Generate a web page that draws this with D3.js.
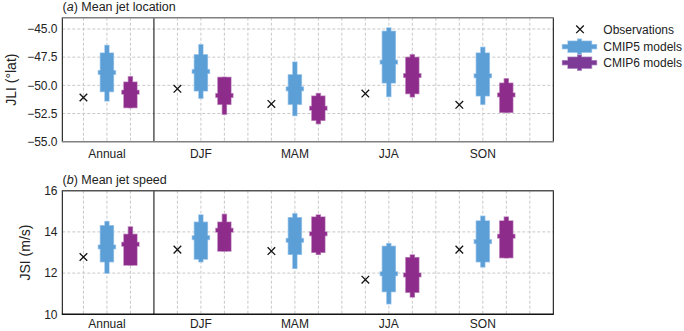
<!DOCTYPE html>
<html><head><meta charset="utf-8">
<script src="https://cdn.jsdelivr.net/npm/d3@7/dist/d3.min.js"></script>
<style>
body{margin:0;background:#fff;}
svg{display:block;font-family:"Liberation Sans",Arial,Helvetica,sans-serif;}
</style></head>
<body><svg id="c" width="684" height="331"></svg>
<script>
const seasons = ["Annual","DJF","MAM","JJA","SON"];
// Mean jet location (JLI, °lat)
const jliObs  = [-51.08,-50.31,-51.65,-50.73,-51.73];
const jli5Max = [-46.46,-46.40,-47.94,-44.91,-46.63];
const jli5Hi  = [-47.14,-47.29,-49.07,-45.21,-47.14];
const jli5Med = [-48.86,-48.77,-50.31,-47.94,-49.15];
const jli5Lo  = [-50.55,-50.49,-51.68,-49.78,-50.93];
const jli5Min = [-51.38,-51.14,-52.68,-50.99,-51.68];
const jli6Max = [-49.24,-49.30,-50.73,-47.29,-49.42];
const jli6Hi  = [-49.72,-49.30,-50.96,-47.52,-49.81];
const jli6Med = [-50.61,-50.90,-52.03,-49.13,-50.85];
const jli6Lo  = [-51.97,-51.68,-53.10,-50.73,-52.39];
const jli6Min = [-51.97,-52.56,-53.40,-51.02,-52.39];
// Mean jet speed (JSI, m/s)
const jsiObs  = [12.78,13.14,13.07,11.68,13.14];
const jsi5Max = [14.50,14.82,14.88,13.43,14.76];
const jsi5Hi  = [14.30,14.47,14.69,13.30,14.53];
const jsi5Med = [13.27,13.72,13.59,11.97,13.53];
const jsi5Lo  = [12.55,12.68,12.91,11.10,12.55];
const jsi5Min = [12.00,12.55,12.23,10.51,12.30];
const jsi6Max = [14.24,14.85,14.82,12.88,14.72];
const jsi6Hi  = [13.88,14.47,14.72,12.75,14.53];
const jsi6Med = [13.40,14.08,13.91,11.91,13.79];
const jsi6Lo  = [12.39,13.07,13.01,11.07,12.75];
const jsi6Min = [12.39,13.07,12.91,10.84,12.75];

const jliTicks = [-45,-47.5,-50,-52.5,-55];
const jsiTicks = [10,12,14,16];
const legendLabels = ["Observations","CMIP5 models","CMIP6 models"];

const C5 = "#5b9fd6", C5e = "#a9cdee";
const C6 = "#8e2c8c", C6e = "#c493c3";
const C6L = "#7d3a97";

const svg = d3.select("#c");
const x = d3.scaleLinear().domain([0.1,21]).range([62.3,553.3]);

function panel(opt){
  const y = d3.scaleLinear().domain(opt.domain).range(opt.range);
  const g = svg.append("g");
  const [y0,y1] = opt.range;
  const gx = d3.range(1,21).filter(d=>d!==4);
  g.selectAll(".vg").data(gx).join("line")
    .attr("x1",d=>x(d)).attr("x2",d=>x(d)).attr("y1",y1).attr("y2",y0)
    .attr("stroke","#c8c8c8").attr("stroke-width",1).attr("stroke-dasharray","3,2");
  g.selectAll(".hg").data(opt.ticks.filter(t=>t!==opt.domain[0]&&t!==opt.domain[1])).join("line")
    .attr("x1",x.range()[0]).attr("x2",x.range()[1]).attr("y1",d=>y(d)).attr("y2",d=>y(d))
    .attr("stroke","#c8c8c8").attr("stroke-width",1).attr("stroke-dasharray","3,2");
  g.append("line").attr("x1",x(4)).attr("x2",x(4)).attr("y1",y1).attr("y2",y0)
    .attr("stroke","#000").attr("stroke-width",1);
  g.append("line").attr("x1",x.range()[0]).attr("x2",x.range()[0]).attr("y1",y1).attr("y2",y0).attr("stroke","#000");
  g.append("line").attr("x1",x.range()[1]).attr("x2",x.range()[1]).attr("y1",y1).attr("y2",y0).attr("stroke","#000");
  g.append("line").attr("x1",x.range()[0]-0.5).attr("x2",x.range()[1]+0.5).attr("y1",y1).attr("y2",y1).attr("stroke",opt.topCol).attr("stroke-width",1.6);
  g.append("line").attr("x1",x.range()[0]-0.5).attr("x2",x.range()[1]+0.5).attr("y1",y0).attr("y2",y0).attr("stroke",opt.botCol).attr("stroke-width",1.6);
  g.selectAll(".yt").data(opt.ticks).join("text")
    .attr("x",57.5).attr("y",d=>y(d)).attr("dy","0.35em").attr("text-anchor","end")
    .attr("font-size",12).attr("fill","#222").text(opt.fmt);
  g.selectAll(".xl").data(seasons).join("text")
    .attr("x",(d,i)=>x(2+4*i)).attr("y",y0+opt.xlOff).attr("text-anchor","middle")
    .attr("font-size",12).attr("fill","#222").text(d=>d);
  g.append("text").attr("transform",`translate(${opt.labX},${(y0+y1)/2}) rotate(-90)`)
    .attr("text-anchor","middle").attr("dy","0.35em").attr("font-size",14).attr("fill","#222").text(opt.ylabel);
  const t = g.append("text").attr("x",62.5).attr("y",y1-7).attr("font-size",12.5).attr("fill","#222");
  t.append("tspan").text("(");
  t.append("tspan").attr("font-style","italic").text(opt.letter);
  t.append("tspan").text(") "+opt.title);

  function boxes(stats,off,fill,edge){
    const items = seasons.map((s,i)=>({xi:off+4*i,max:stats[0][i],hi:stats[1][i],med:stats[2][i],lo:stats[3][i],min:stats[4][i]}));
    const parts = d=>[
      {x:x(d.xi)-2, y:y(d.max), w:4, h:y(d.min)-y(d.max)},
      {x:x(d.xi)-6.5, y:y(d.hi), w:13, h:y(d.lo)-y(d.hi)},
      {x:x(d.xi)-8.5, y:y(d.med)-1.8, w:17, h:3.6}
    ];
    const all = items.flatMap(parts);
    g.append("g").selectAll("rect").data(all).join("rect")
      .attr("x",d=>d.x).attr("y",d=>d.y).attr("width",d=>d.w).attr("height",d=>Math.max(d.h,0.5))
      .attr("fill",edge).attr("stroke",edge).attr("stroke-width",1.4);
    g.append("g").selectAll("rect").data(all).join("rect")
      .attr("x",d=>d.x).attr("y",d=>d.y).attr("width",d=>d.w).attr("height",d=>Math.max(d.h,0.5))
      .attr("fill",fill);
  }
  boxes(opt.s5,2,C5,C5e);
  boxes(opt.s6,3,C6,C6e);
  const cr = 3.8;
  g.selectAll(".ob").data(opt.obs).join("path")
    .attr("d",(d,i)=>{const cx=x(1+4*i),cy=y(d);return `M${cx-cr},${cy-cr}L${cx+cr},${cy+cr}M${cx-cr},${cy+cr}L${cx+cr},${cy-cr}`;})
    .attr("stroke","#111").attr("stroke-width",1.3).attr("fill","none");
}

panel({domain:[-55,-44],range:[141.7,17.7],ticks:jliTicks,fmt:d3.format(".1f"),
  s5:[jli5Max,jli5Hi,jli5Med,jli5Lo,jli5Min],s6:[jli6Max,jli6Hi,jli6Med,jli6Lo,jli6Min],obs:jliObs,xlOff:16.5,
  ylabel:"JLI (°lat)",labX:11,letter:"a",title:"Mean jet location",topCol:"#808080",botCol:"#808080"});
panel({domain:[10,16],range:[314.3,190.7],ticks:jsiTicks,fmt:d3.format("d"),
  s5:[jsi5Max,jsi5Hi,jsi5Med,jsi5Lo,jsi5Min],s6:[jsi6Max,jsi6Hi,jsi6Med,jsi6Lo,jsi6Min],obs:jsiObs,xlOff:14,
  ylabel:"JSI (m/s)",labX:25,letter:"b",title:"Mean jet speed",topCol:"#555",botCol:"#111"});

const lg = svg.append("g");
const ly = [29.3,46.7,62.7];
lg.append("path").attr("d",`M${580-3.8},${ly[0]-3.8}L${580+3.8},${ly[0]+3.8}M${580-3.8},${ly[0]+3.8}L${580+3.8},${ly[0]-3.8}`)
  .attr("stroke","#111").attr("stroke-width",1.3);
[[C5,C5e,ly[1]],[C6L,"#b696c8",ly[2]]].forEach(([f,e,yy])=>{
  const parts=[{x:562.5,y:yy-2,w:34,h:4},{x:568,y:yy-5.5,w:23.5,h:11},{x:577.7,y:yy-7.5,w:3.6,h:15}];
  lg.append("g").selectAll("rect").data(parts).join("rect").attr("x",d=>d.x).attr("y",d=>d.y).attr("width",d=>d.w).attr("height",d=>d.h)
    .attr("fill",e).attr("stroke",e).attr("stroke-width",1.4);
  lg.append("g").selectAll("rect").data(parts).join("rect").attr("x",d=>d.x).attr("y",d=>d.y).attr("width",d=>d.w).attr("height",d=>d.h).attr("fill",f);
});
lg.selectAll("text").data(legendLabels).join("text").attr("x",603.3).attr("y",(d,i)=>ly[i]).attr("dy","0.35em")
  .attr("font-size",12).attr("fill","#222").text(d=>d);
</script></body></html>
